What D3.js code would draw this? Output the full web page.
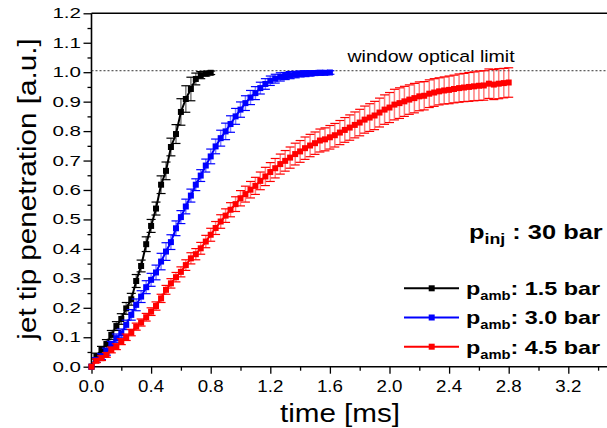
<!DOCTYPE html>
<html>
<head>
<meta charset="utf-8">
<script src="https://cdn.jsdelivr.net/npm/d3@7"></script>
<style>
  html, body { margin: 0; padding: 0; background: #ffffff; overflow: hidden; }
  svg { display: block; font-family: "Liberation Sans", Arial, sans-serif; }
</style>
</head>
<body>
<svg id="chart" width="607" height="428"></svg>
<script>
// Camera frame instants (ms), one every 1/30 ms
const frameTimes = [
  0.000, 0.033, 0.067, 0.100, 0.133, 0.167, 0.200, 0.233, 0.267, 0.300,
  0.333, 0.367, 0.400, 0.433, 0.467, 0.500, 0.533, 0.567, 0.600, 0.633,
  0.667, 0.700, 0.733, 0.767, 0.800, 0.833, 0.867, 0.900, 0.933, 0.967,
  1.000, 1.033, 1.067, 1.100, 1.133, 1.167, 1.200, 1.233, 1.267, 1.300,
  1.333, 1.367, 1.400, 1.433, 1.467, 1.500, 1.533, 1.567, 1.600, 1.633,
  1.667, 1.700, 1.733, 1.767, 1.800, 1.833, 1.867, 1.900, 1.933, 1.967,
  2.000, 2.033, 2.067, 2.100, 2.133, 2.167, 2.200, 2.233, 2.267, 2.300,
  2.333, 2.367, 2.400, 2.433, 2.467, 2.500, 2.533, 2.567, 2.600, 2.633,
  2.667, 2.700, 2.733, 2.767, 2.800
];

// Normalised jet tip penetration, p_amb = 1.5 bar
const penetration15 = [
  0.000, 0.036, 0.057, 0.077, 0.108, 0.138, 0.162, 0.198, 0.229, 0.291,
  0.342, 0.416, 0.478, 0.537, 0.618, 0.665, 0.746, 0.790, 0.865, 0.909,
  0.943, 0.977, 0.990, 0.995, 0.998
];
const spread15 = [
  0.000, 0.010, 0.012, 0.015, 0.015, 0.015, 0.018, 0.020, 0.020, 0.022,
  0.020, 0.025, 0.022, 0.022, 0.030, 0.030, 0.030, 0.032, 0.045, 0.045,
  0.040, 0.020, 0.012, 0.008, 0.006
];

// p_amb = 3.0 bar
const penetration30 = [
  0.000, 0.023, 0.034, 0.051, 0.074, 0.097, 0.113, 0.142, 0.176, 0.210,
  0.238, 0.270, 0.295, 0.320, 0.357, 0.391, 0.423, 0.470, 0.508, 0.544,
  0.581, 0.618, 0.649, 0.683, 0.714, 0.748, 0.776, 0.799, 0.824, 0.850,
  0.873, 0.895, 0.914, 0.929, 0.946, 0.960, 0.971, 0.978, 0.984, 0.987,
  0.990, 0.992, 0.994, 0.995, 0.996, 0.997, 0.998, 0.998, 0.999
];
const spread30 = [
  0.000, 0.008, 0.010, 0.012, 0.012, 0.014, 0.015, 0.016, 0.018, 0.020,
  0.020, 0.022, 0.022, 0.025, 0.028, 0.030, 0.025, 0.025, 0.022, 0.025,
  0.022, 0.020, 0.020, 0.022, 0.025, 0.025, 0.027, 0.028, 0.028, 0.027,
  0.026, 0.025, 0.024, 0.022, 0.020, 0.018, 0.016, 0.015, 0.014, 0.012,
  0.012, 0.011, 0.010, 0.010, 0.009, 0.008, 0.008, 0.007, 0.006
];

// p_amb = 4.5 bar
const penetration45 = [
  0.000, 0.020, 0.029, 0.040, 0.057, 0.068, 0.085, 0.100, 0.116, 0.136,
  0.150, 0.168, 0.187, 0.206, 0.232, 0.261, 0.283, 0.304, 0.322, 0.345,
  0.368, 0.382, 0.402, 0.425, 0.448, 0.471, 0.493, 0.513, 0.533, 0.552,
  0.572, 0.586, 0.601, 0.614, 0.631, 0.646, 0.661, 0.674, 0.688, 0.699,
  0.710, 0.722, 0.731, 0.742, 0.751, 0.759, 0.768, 0.772, 0.779, 0.786,
  0.795, 0.804, 0.812, 0.821, 0.829, 0.839, 0.846, 0.853, 0.863, 0.873,
  0.880, 0.890, 0.895, 0.901, 0.907, 0.912, 0.918, 0.920, 0.927, 0.931,
  0.935, 0.938, 0.940, 0.943, 0.946, 0.948, 0.950, 0.952, 0.954, 0.955,
  0.961, 0.958, 0.961, 0.963, 0.965
];
const spread45 = [
  0.000, 0.006, 0.008, 0.008, 0.010, 0.010, 0.010, 0.011, 0.011, 0.012,
  0.012, 0.013, 0.013, 0.014, 0.014, 0.015, 0.016, 0.016, 0.017, 0.018,
  0.019, 0.019, 0.020, 0.021, 0.022, 0.022, 0.023, 0.023, 0.024, 0.025,
  0.026, 0.027, 0.028, 0.029, 0.030, 0.031, 0.032, 0.033, 0.034, 0.035,
  0.036, 0.037, 0.037, 0.038, 0.038, 0.038, 0.039, 0.039, 0.040, 0.040,
  0.041, 0.042, 0.043, 0.044, 0.045, 0.046, 0.047, 0.048, 0.049, 0.050,
  0.051, 0.052, 0.052, 0.051, 0.050, 0.050, 0.049, 0.048, 0.047, 0.047,
  0.046, 0.046, 0.047, 0.047, 0.048, 0.048, 0.049, 0.049, 0.050, 0.050,
  0.050, 0.051, 0.051, 0.050, 0.050
];

const seriesNames = ["1.5 bar", "3.0 bar", "4.5 bar"];
const seriesColors = ["#000000", "#0000ff", "#ff0000"];
const opticalLimit = 1.005;

const xMajorTicks = [0, 0.4, 0.8, 1.2, 1.6, 2.0, 2.4, 2.8, 3.2];
const xMinorTicks = [0.2, 0.6, 1.0, 1.4, 1.8, 2.2, 2.6, 3.0, 3.4];
const yMajorTicks = [0, 0.1, 0.2, 0.3, 0.4, 0.5, 0.6, 0.7, 0.8, 0.9, 1.0, 1.1, 1.2];
const yMinorTicks = [0.05, 0.15, 0.25, 0.35, 0.45, 0.55, 0.65, 0.75, 0.85, 0.95, 1.05, 1.15];

const series = [
  { name: seriesNames[0], color: seriesColors[0], values: penetration15, spread: spread15 },
  { name: seriesNames[1], color: seriesColors[1], values: penetration30, spread: spread30 },
  { name: seriesNames[2], color: seriesColors[2], values: penetration45, spread: spread45 }
].map(s => ({ ...s, points: s.values.map((v, i) => ({ t: frameTimes[i], v, e: s.spread[i] })) }));

const svg = d3.select("#chart");
const x = d3.scaleLinear().domain([0, 3.6]).range([91.5, 627.9]);
const y = d3.scaleLinear().domain([0, 1.2]).range([366.7, 13.3]);

// text that is widened horizontally around its anchor point
function wideText(parent, px, py, sx, size, anchor, str, extra) {
  const t = parent.append("text")
    .attr("transform", `translate(${px},${py})${extra || ""} scale(${sx},1)`)
    .attr("text-anchor", anchor)
    .attr("font-size", size)
    .attr("fill", "#000");
  if (str !== null) t.text(str);
  return t;
}

// ---- axes ----
const axes = svg.append("g");
const yAxisMajor = axes.append("g").attr("transform", `translate(${x(0)},0)`)
  .call(d3.axisLeft(y).tickValues(yMajorTicks).tickSize(8).tickFormat(""));
const yAxisMinor = axes.append("g").attr("transform", `translate(${x(0)},0)`)
  .call(d3.axisLeft(y).tickValues(yMinorTicks).tickSize(4).tickFormat(""));
const xAxisMajor = axes.append("g").attr("transform", `translate(0,${y(0)})`)
  .call(d3.axisBottom(x).tickValues(xMajorTicks).tickSize(7).tickFormat(""));
const xAxisMinor = axes.append("g").attr("transform", `translate(0,${y(0)})`)
  .call(d3.axisBottom(x).tickValues(xMinorTicks).tickSize(4).tickFormat(""));
yAxisMinor.select(".domain").remove();
xAxisMinor.select(".domain").remove();
axes.selectAll(".domain").attr("stroke", "#000").attr("stroke-width", 1.6);
axes.selectAll(".tick line").attr("stroke", "#000").attr("stroke-width", 1.3);
yAxisMajor.select(".domain").attr("d", `M0,${y(1.2)}V${y(0)}`);
xAxisMajor.select(".domain").attr("d", `M${x(0)},0H${x(3.6)}`);

// top frame
svg.append("line")
  .attr("x1", x(0)).attr("x2", x(3.6))
  .attr("y1", y(1.2)).attr("y2", y(1.2))
  .attr("stroke", "#000").attr("stroke-width", 1.6);

// tick labels
const labels = svg.append("g");
yMajorTicks.forEach(v => wideText(labels, 81, y(v) + 5, 1.37, 15, "end", d3.format(".1f")(v)));
xMajorTicks.forEach(v => wideText(labels, x(v), 391.5, 1.17, 16, "middle", d3.format(".1f")(v)));

// axis titles
wideText(svg, 340, 421.5, 1.14, 26, "middle", "time [ms]");
wideText(svg, 36, 189, 1.14, 26, "middle", "jet tip penetration [a.u.]", " rotate(-90)");

// optical limit line
svg.append("line")
  .attr("x1", x(0)).attr("x2", x(3.6))
  .attr("y1", y(opticalLimit)).attr("y2", y(opticalLimit))
  .attr("stroke", "#333").attr("stroke-width", 1)
  .attr("stroke-dasharray", "2,2");
wideText(svg, 347.5, 62, 1.15, 17, "start", "window optical limit");

// ---- series ----
const line = d3.line().x(d => x(d.t)).y(d => y(d.v));
series.forEach(s => {
  const g = svg.append("g");
  const bars = s.points.filter(d => d.e > 0);
  // faint whiskers, solid caps
  g.append("g").attr("stroke", s.color).attr("stroke-width", 1.5).attr("opacity", 0.5)
    .selectAll("line").data(bars).join("line")
    .attr("x1", d => x(d.t)).attr("x2", d => x(d.t))
    .attr("y1", d => y(d.v + d.e)).attr("y2", d => y(d.v - d.e));
  const caps = g.append("g").attr("stroke", s.color).attr("stroke-width", 1.2);
  bars.forEach(d => {
    const cx = x(d.t);
    [d.v + d.e, d.v - d.e].forEach(cv => {
      caps.append("line").attr("x1", cx - 4.5).attr("x2", cx + 4.5)
        .attr("y1", y(cv)).attr("y2", y(cv));
    });
  });
  g.append("path").datum(s.points)
    .attr("d", line).attr("fill", "none")
    .attr("stroke", s.color).attr("stroke-width", 2);
  g.selectAll("rect").data(s.points).join("rect")
    .attr("x", d => x(d.t) - 3).attr("y", d => y(d.v) - 3)
    .attr("width", 6).attr("height", 6)
    .attr("fill", s.color);
});

// ---- legend ----
const legend = svg.append("g").attr("font-weight", "bold");
const inj = wideText(legend, 469, 239, 1.27, 20, "start", null);
inj.append("tspan").text("p");
inj.append("tspan").attr("font-size", 14).attr("dy", 4.5).text("inj");
inj.append("tspan").attr("dy", -4.5).text(" : 30 bar");

series.forEach((s, i) => {
  const ly = 288.3 + i * 29.2;
  legend.append("line")
    .attr("x1", 404).attr("x2", 459).attr("y1", ly).attr("y2", ly)
    .attr("stroke", s.color).attr("stroke-width", 2);
  legend.append("rect")
    .attr("x", 431.7 - 3).attr("y", ly - 3).attr("width", 6).attr("height", 6)
    .attr("fill", s.color);
  const t = wideText(legend, 466, ly + 6.8, 1.23, 19, "start", null);
  t.append("tspan").text("p");
  t.append("tspan").attr("font-size", 12).attr("dy", 5).text("amb");
  t.append("tspan").attr("dy", -5).text(": " + s.name);
});
</script>
</body>
</html>
